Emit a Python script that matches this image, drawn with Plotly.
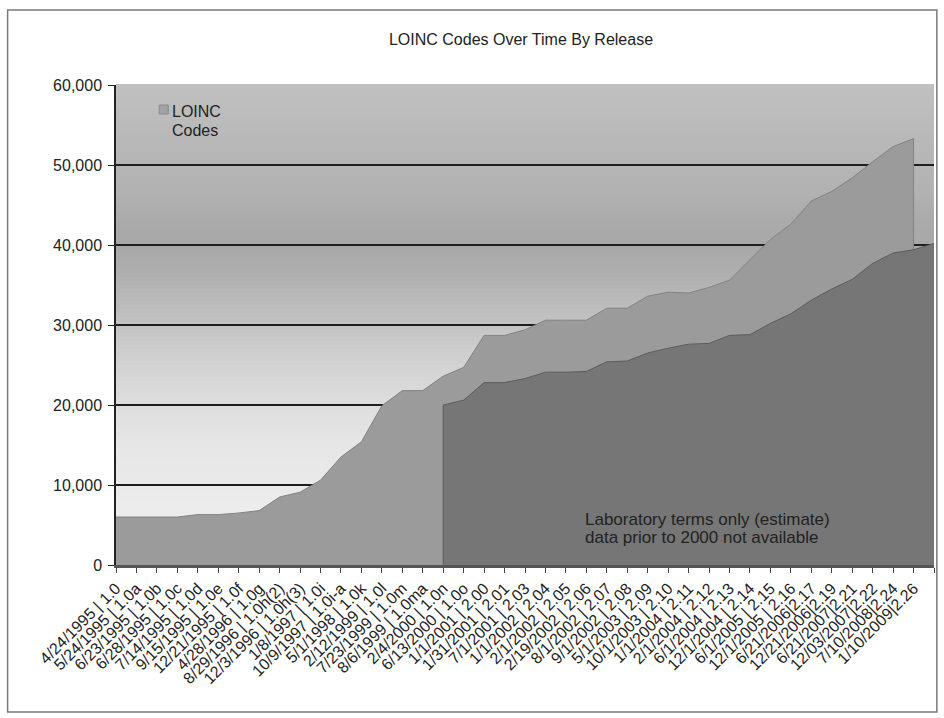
import plotly.graph_objects as go

# Release labels (date | version) in release order; the last slot has no label
release_labels = [
    "4/24/1995 | 1.0", "5/24/1995 | 1.0a", "6/23/1995 | 1.0b", "6/28/1995 | 1.0c",
    "7/14/1995 | 1.0d", "9/15/1995 | 1.0e", "12/21/1995 | 1.0f", "4/28/1996 | 1.0g",
    "8/29/1996 | 1.0h(2)", "12/3/1996 | 1.0h(3)", "1/8/1997 | 1.0i", "10/9/1997 | 1.0i-a",
    "5/1/1998 | 1.0k", "2/12/1999 | 1.0l", "7/23/1999 | 1.0m", "8/6/1999 | 1.0ma",
    "2/4/2000 | 1.0n", "6/13/2000 | 1.0o", "1/1/2001 | 2.00", "1/31/2001 | 2.01",
    "7/1/2001 | 2.03", "1/1/2002 | 2.04", "2/1/2002 | 2.05", "2/19/2002 | 2.06",
    "8/1/2002 | 2.07", "9/1/2002 | 2.08", "5/1/2003 | 2.09", "10/1/2003 | 2.10",
    "1/1/2004 | 2.11", "2/1/2004 | 2.12", "6/1/2004 | 2.13", "12/1/2004 | 2.14",
    "6/1/2005 | 2.15", "12/1/2005 | 2.16", "6/21/2006|2.17", "12/21/2006|2.19",
    "6/21/2007|2.21", "12/03/2007|2.22", "7/10/2008|2.24", "1/10/2009|2.26",
    "",
]

# Total LOINC codes per release (no value for the final slot)
loinc_codes = [
    6000, 6000, 6000, 6000, 6300, 6300, 6500, 6800, 8500, 9100,
    10600, 13500, 15400, 19900, 21800, 21800, 23600, 24700, 28700, 28700,
    29400, 30600, 30600, 30600, 32100, 32100, 33600, 34100, 34000, 34700,
    35600, 38200, 40700, 42600, 45500, 46700, 48400, 50400, 52300, 53300,
    None,
]

# Laboratory terms only (estimate); not available before 2000
lab_terms = [
    None, None, None, None, None, None, None, None, None, None,
    None, None, None, None, None, None, 20000, 20600, 22800, 22800,
    23300, 24100, 24100, 24200, 25400, 25500, 26500, 27100, 27600, 27700,
    28700, 28800, 30200, 31400, 33100, 34500, 35700, 37700, 39000, 39400,
    40200,
]

y_ticks = [0, 10000, 20000, 30000, 40000, 50000, 60000]

idx = list(range(len(release_labels)))

# Total series: close its right edge down onto the laboratory series
tot_x = [i for i, v in zip(idx, loinc_codes) if v is not None]
tot_y = [v for v in loinc_codes if v is not None]
tot_x.append(tot_x[-1])
tot_y.append(lab_terms[tot_x[-1]])

# Laboratory series: start with a vertical edge from the baseline
lab_x = [i for i, v in zip(idx, lab_terms) if v is not None]
lab_y = [v for v in lab_terms if v is not None]
lab_x = [lab_x[0]] + lab_x
lab_y = [0] + lab_y

TOTAL_FILL = "#9b9b9b"
LAB_FILL = "#767676"

fig = go.Figure()
fig.add_trace(go.Scatter(
    x=tot_x, y=tot_y, mode="lines", fill="tozeroy",
    fillcolor=TOTAL_FILL, line=dict(color="#828282", width=1),
    name="LOINC Codes", showlegend=False,
))
fig.add_trace(go.Scatter(
    x=lab_x, y=lab_y, mode="lines", fill="tozeroy",
    fillcolor=LAB_FILL, line=dict(color="#5c5c5c", width=1),
    name="Laboratory terms", showlegend=False,
))

# Plot-area background: vertical gray gradient built from thin bands
stops = [
    (0.00, 238), (0.12, 236), (0.25, 230), (0.35, 220), (0.45, 205),
    (0.53, 190), (0.60, 176), (0.66, 168), (0.71, 170), (0.78, 178),
    (0.88, 184), (1.00, 192),
]


def gray_at(t):
    for (t0, g0), (t1, g1) in zip(stops[:-1], stops[1:]):
        if t0 <= t <= t1:
            return g0 + (g1 - g0) * (t - t0) / (t1 - t0)
    return stops[-1][1]


shapes = []
n_bands = 120
for k in range(n_bands):
    y0 = k / n_bands
    y1 = (k + 1) / n_bands
    g = int(round(gray_at((y0 + y1) / 2)))
    shapes.append(dict(
        type="rect", xref="x domain", yref="y domain",
        x0=0, x1=1, y0=y0, y1=y1 + 0.002,
        fillcolor=f"rgb({g},{g},{g})", line=dict(width=0), layer="below",
    ))

# Legend key: small square swatch for the total series
shapes.append(dict(
    type="rect", xref="paper", yref="paper",
    x0=0.0529, x1=0.0639, y0=0.9396, y1=0.9583,
    fillcolor="#a2a2a2", line=dict(color="#8a8a8a", width=1), layer="above",
))

# Outer chart frame
shapes.append(dict(
    type="rect", xref="paper", yref="paper",
    x0=-0.1325, x1=1.0035, y0=-0.306, y1=1.156,
    line=dict(color="#7a7a7a", width=1.5), fillcolor="rgba(0,0,0,0)",
    layer="above",
))

font_family = "Liberation Sans, Arial, sans-serif"


def text_note(text, x, y, size):
    return dict(
        text=text, xref="paper", yref="paper", x=x, y=y,
        xanchor="left", yanchor="middle", align="left", showarrow=False,
        font=dict(size=size, color="#222222", family=font_family),
    )


annotations = [
    # legend text
    text_note("LOINC", 0.0665, 0.9458, 16),
    text_note("Codes", 0.0665, 0.9042, 16),
    # note on the laboratory series
    text_note("Laboratory terms only (estimate)", 0.5705, 0.0958, 17),
    text_note("data prior to 2000 not available", 0.5705, 0.0563, 17),
]

fig.update_layout(
    width=944, height=718,
    margin=dict(l=116, r=10, t=85, b=153),
    paper_bgcolor="white",
    plot_bgcolor="rgba(0,0,0,0)",
    font=dict(family=font_family, color="#222222", size=13),
    title=dict(
        text="LOINC Codes Over Time By Release",
        x=521 / 944, xref="container", xanchor="center",
        y=1 - 39 / 718, yref="container", yanchor="middle",
        font=dict(size=16, color="#222222", family=font_family),
    ),
    showlegend=False,
    shapes=shapes,
    annotations=annotations,
)

fig.update_xaxes(
    range=[0, len(release_labels) - 1],
    tickmode="array", tickvals=idx, ticktext=release_labels,
    tickangle=-45, tickfont=dict(size=16, color="#222222"),
    ticks="outside", ticklen=5, tickcolor="#444444", tickwidth=1,
    showline=True, linecolor="#555555", linewidth=2.5,
    showgrid=False, zeroline=False, fixedrange=True, automargin=False,
)
fig.update_yaxes(
    range=[0, 60000],
    tickmode="array", tickvals=y_ticks,
    tickformat=",d", tickfont=dict(size=16, color="#222222"),
    ticks="outside", ticklen=6, tickcolor="#222222", tickwidth=1,
    ticklabelstandoff=3,
    showline=True, linecolor="#222222", linewidth=1.5,
    showgrid=True, gridcolor="#1e1e1e", gridwidth=1.5,
    zeroline=False, fixedrange=True, automargin=False,
)

fig.write_html("out.html")
